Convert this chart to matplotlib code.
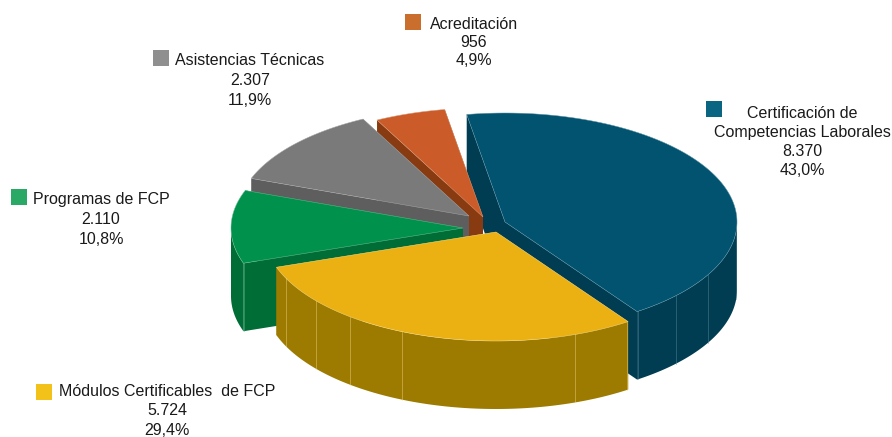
import numpy as np
import matplotlib
matplotlib.use("Agg")
import matplotlib.pyplot as plt
from matplotlib.patches import Polygon, Rectangle

plt.rcParams['font.family'] = ['Liberation Sans', 'DejaVu Sans']

# data (pie order, clockwise from the top)
names = ["Certificación de\nCompetencias Laborales", "Módulos Certificables  de FCP",
         "Programas de FCP", "Asistencias Técnicas", "Acreditación"]
values = [8370, 5724, 2110, 2307, 956]
value_labels = ["8.370", "5.724", "2.110", "2.307", "956"]

# style
top_colors = ["#01536F", "#EBB012", "#00924C", "#7A7A7A", "#CB5B29"]
side_colors = ["#003C52", "#9C7B00", "#006D37", "#5E5E5E", "#883A10"]
edge_colors = ["#5F93A5", "#F3D98A", "#6DBE94", "#A8A8A8", "#D99A78"]
swatch_colors = ["#0A6583", "#F2C11A", "#2AA866", "#8F8F8F", "#C96E2C"]
tips = [(505, 222), (496, 232), (463, 228), (469, 216), (483, 217)]
seams = [[-55, -42.5, -29, -5], [-70, -55.5, -114, -129, -141, -155], [-161], [], []]
swatches = [(706, 101), (36, 384), (11, 189), (153, 50), (405, 14)]
label_pos = [(802.5, 118), (167, 396), (101, 204), (250, 65), (474, 29)]
line_gaps = [19, 19.4, 20, 20, 18]
draw_order = [0, 4, 3, 2, 1]
RX, RY, DEPTH = 232, 109, 68
START = 99.5

fig = plt.figure(figsize=(8.92, 4.37), dpi=100)
ax = fig.add_axes([0, 0, 1, 1])
ax.set_xlim(0, 892)
ax.set_ylim(437, 0)
ax.axis("off")

total = sum(values)
bounds = START - 360 * np.cumsum([0] + values) / total


def arc(tip, a0, a1, n=120):
    t = np.radians(np.linspace(a0, a1, n))
    return np.column_stack([tip[0] + RX * np.cos(t), tip[1] - RY * np.sin(t)])


for i in draw_order:
    tip = np.array(tips[i], float)
    a0, a1 = bounds[i], bounds[i + 1]
    down = np.array([0, DEPTH])
    top_arc = arc(tip, a0, a1)
    # cut faces
    for a in (a0, a1):
        p = arc(tip, a, a, 1)[0]
        ax.add_patch(Polygon([tip, p, p + down, tip + down], closed=True,
                             fc=side_colors[i], ec="none", lw=0))
    # outer wall, only where it faces the viewer
    t = np.linspace(a0, a1, 240)
    vis = t[np.sin(np.radians(t)) < 0]
    if len(vis) > 1:
        w = arc(tip, vis[0], vis[-1])
        ax.add_patch(Polygon(np.vstack([w, (w + down)[::-1]]), closed=True,
                             fc=side_colors[i], ec="none", lw=0))
    # seams on the wall
    for s in seams[i]:
        p = arc(tip, s, s, 1)[0]
        ax.plot([p[0], p[0]], [p[1], p[1] + DEPTH], color=edge_colors[i], lw=0.6, alpha=0.5)
    # top face
    ax.add_patch(Polygon(np.vstack([tip, top_arc]), closed=True,
                         fc=top_colors[i], ec=edge_colors[i], lw=0.35))

for i, name in enumerate(names):
    x, y = swatches[i]
    ax.add_patch(Rectangle((x, y), 16, 16, fc=swatch_colors[i], ec="none"))

fs = 11.5
for i, name in enumerate(names):
    x, y = label_pos[i]
    lines = name.split("\n")
    pct = f"{100 * values[i] / total:.1f}%".replace(".", ",")
    for j, s in enumerate(lines + [value_labels[i], pct]):
        ax.text(x, y + j * line_gaps[i], s, ha="center", va="baseline", fontsize=fs, color="#1a1a1a")

fig.savefig("out.png", dpi=100)
